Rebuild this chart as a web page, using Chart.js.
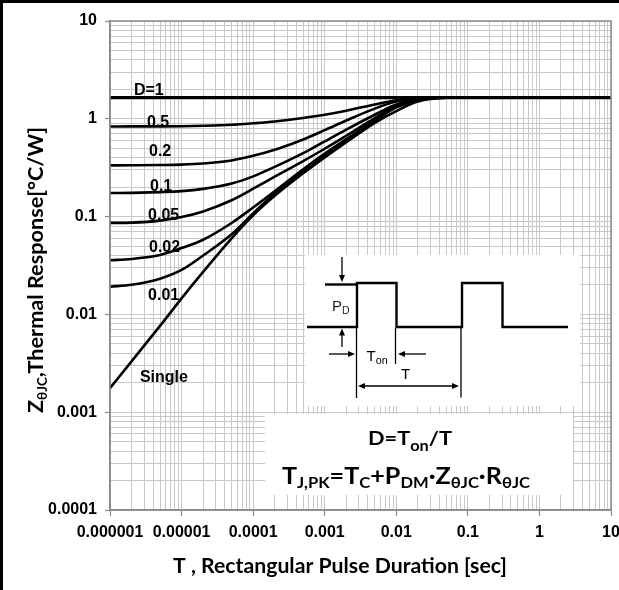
<!DOCTYPE html>
<html>
<head>
<meta charset="utf-8">
<script src="https://cdn.jsdelivr.net/npm/chart.js@4.4.1/dist/chart.umd.min.js"></script>
<style>
  html, body { margin: 0; padding: 0; background: #fff; overflow: hidden; }
  canvas { display: block; }
</style>
</head>
<body>
<canvas id="zth" width="619" height="590"></canvas>
<script>
// Pulse durations (s) at which the thermal impedance curves are sampled
const pulseDuration = [1e-6, 2e-6, 5e-6, 1e-5, 2e-5, 5e-5, 1e-4, 2e-4, 5e-4, 1e-3, 2e-3, 5e-3, 1e-2, 2e-2, 5e-2, 0.1, 1, 10];

// Duty-cycle curve names
const dutyLabels = ['D=1', '0.5', '0.2', '0.1', '0.05', '0.02', '0.01', 'Single'];

// Z(thJC) in °C/W for each duty cycle
const zD1     = [1.65, 1.65, 1.65, 1.65, 1.65, 1.65, 1.65, 1.65, 1.65, 1.65, 1.65, 1.65, 1.65, 1.65, 1.65, 1.65, 1.65, 1.65];
const zD05    = [0.835, 0.836, 0.837, 0.840, 0.848, 0.868, 0.900, 0.940, 1.020, 1.100, 1.210, 1.400, 1.550, 1.630, 1.650, 1.65, 1.65, 1.65];
const zD02    = [0.334, 0.335, 0.337, 0.340, 0.349, 0.375, 0.418, 0.482, 0.615, 0.765, 0.960, 1.270, 1.500, 1.620, 1.650, 1.65, 1.65, 1.65];
const zD01    = [0.174, 0.175, 0.178, 0.182, 0.192, 0.218, 0.258, 0.322, 0.445, 0.588, 0.775, 1.100, 1.400, 1.580, 1.650, 1.65, 1.65, 1.65];
const zD005   = [0.0862, 0.0868, 0.091, 0.099, 0.113, 0.147, 0.193, 0.256, 0.370, 0.494, 0.671, 1.016, 1.360, 1.570, 1.650, 1.65, 1.65, 1.65];
const zD002   = [0.0358, 0.0369, 0.0405, 0.0477, 0.058, 0.086, 0.124, 0.182, 0.305, 0.440, 0.620, 0.960, 1.330, 1.560, 1.645, 1.65, 1.65, 1.65];
const zD001   = [0.0192, 0.0201, 0.0232, 0.0285, 0.040, 0.066, 0.108, 0.172, 0.292, 0.425, 0.600, 0.950, 1.310, 1.550, 1.645, 1.65, 1.65, 1.65];
const zSingle = [0.00176, 0.00331, 0.00763, 0.0146, 0.0272, 0.060, 0.103, 0.163, 0.277, 0.403, 0.575, 0.910, 1.200, 1.500, 1.640, 1.65, 1.65, 1.65];

// Axis tick labels (decades)
const xMajorValues = [1e-6, 1e-5, 1e-4, 1e-3, 1e-2, 1e-1, 1, 10];
const xTickLabels  = ['0.000001', '0.00001', '0.0001', '0.001', '0.01', '0.1', '1', '10'];
const yMajorValues = [1e-4, 1e-3, 1e-2, 1e-1, 1, 10];
const yTickLabels  = ['0.0001', '0.001', '0.01', '0.1', '1', '10'];

// Where each curve's name sits (pulse duration, Z)
const curveLabelT = [2.16e-6, 3.29e-6, 3.51e-6, 3.62e-6, 3.40e-6, 3.51e-6, 3.40e-6, 2.62e-6];
const curveLabelZ = [1.93, 0.921, 0.461, 0.205, 0.1035, 0.0477, 0.01545, 0.00225];

const seriesValues = [zD1, zD05, zD02, zD01, zD005, zD002, zD001, zSingle];

const ARIAL = "'Liberation Sans', Arial, sans-serif";
const CAL = "Lato, 'Open Sans', sans-serif";

function isDecade(v) {
  const l = Math.log10(v);
  return Math.abs(l - Math.round(l)) < 1e-9;
}
function logTicks(minExp, maxExp) {
  const out = [];
  for (let e = minExp; e < maxExp; e++) {
    for (let m = 1; m <= 9; m++) out.push({ value: Number((m * Math.pow(10, e)).toPrecision(6)) });
  }
  out.push({ value: Math.pow(10, maxExp) });
  return out;
}
function labelFor(value, majors, labels) {
  const i = majors.findIndex(v => Math.abs(Math.log10(v) - Math.log10(value)) < 1e-9);
  return i >= 0 ? labels[i] : '';
}

// Draws text made of normal and subscript pieces
function drawRich(ctx, parts, o) {
  const weight = o.weight || 'bold';
  const subScale = o.subScale || 0.62;
  const subShift = o.subShift != null ? o.subShift : 0.2;
  const fontOf = p => `${weight} ${p.sub ? o.size * subScale : o.size}px ${o.family}`;
  let natural = 0;
  for (const p of parts) { ctx.font = fontOf(p); natural += ctx.measureText(p.text).width; }
  const sx = o.width ? o.width / natural : 1;
  ctx.save();
  ctx.translate(o.x, o.y);
  if (o.rotate) ctx.rotate(o.rotate);
  ctx.scale(sx, 1);
  ctx.fillStyle = o.color || '#000';
  ctx.textAlign = 'left';
  ctx.textBaseline = 'alphabetic';
  let cx = o.align === 'left' ? 0 : -natural / 2;
  for (const p of parts) {
    ctx.font = fontOf(p);
    ctx.fillText(p.text, cx, p.sub ? o.size * subShift : 0);
    cx += ctx.measureText(p.text).width;
  }
  ctx.restore();
}

function arrow(ctx, x1, y1, x2, y2, startHead, endHead) {
  const L = 7, W = 3;
  const a = Math.atan2(y2 - y1, x2 - x1);
  const head = (x, y, ang) => {
    ctx.beginPath();
    ctx.moveTo(x, y);
    ctx.lineTo(x - L * Math.cos(ang) + W * Math.sin(ang), y - L * Math.sin(ang) - W * Math.cos(ang));
    ctx.lineTo(x - L * Math.cos(ang) - W * Math.sin(ang), y - L * Math.sin(ang) + W * Math.cos(ang));
    ctx.closePath();
    ctx.fill();
  };
  ctx.beginPath();
  ctx.moveTo(x1 + (startHead ? L * Math.cos(a) * 0.8 : 0), y1 + (startHead ? L * Math.sin(a) * 0.8 : 0));
  ctx.lineTo(x2 - (endHead ? L * Math.cos(a) * 0.8 : 0), y2 - (endHead ? L * Math.sin(a) * 0.8 : 0));
  ctx.stroke();
  if (endHead) head(x2, y2, a);
  if (startHead) head(x1, y1, a + Math.PI);
}

const overlayPlugin = {
  id: 'zthOverlay',
  afterDatasetsDraw(chart) {
    const ctx = chart.ctx;
    const xs = chart.scales.x, ys = chart.scales.y;

    // curve names
    ctx.save();
    ctx.fillStyle = '#000';
    ctx.font = `bold 16px ${ARIAL}`;
    ctx.textAlign = 'left';
    ctx.textBaseline = 'middle';
    dutyLabels.forEach((name, i) => {
      ctx.fillText(name, xs.getPixelForValue(curveLabelT[i]), ys.getPixelForValue(curveLabelZ[i]));
    });
    ctx.restore();

    // white panels for the waveform sketch and the formulas
    ctx.save();
    ctx.fillStyle = '#fff';
    ctx.fillRect(305, 255, 275, 151);
    ctx.fillRect(265, 414, 308, 81);

    // pulse train sketch
    ctx.strokeStyle = '#000';
    ctx.fillStyle = '#000';
    ctx.lineJoin = 'miter';
    ctx.lineWidth = 2.4;
    ctx.beginPath();
    ctx.moveTo(307, 327); ctx.lineTo(357, 327); ctx.lineTo(357, 283);
    ctx.lineTo(396.5, 283); ctx.lineTo(396.5, 327); ctx.lineTo(462, 327);
    ctx.lineTo(462, 283); ctx.lineTo(502.5, 283); ctx.lineTo(502.5, 327); ctx.lineTo(568, 327);
    ctx.stroke();
    ctx.beginPath();
    ctx.moveTo(325, 284.5); ctx.lineTo(356, 284.5);
    ctx.stroke();

    ctx.lineWidth = 1.3;
    ctx.beginPath();
    ctx.moveTo(356.5, 328); ctx.lineTo(356.5, 398);
    ctx.moveTo(395.5, 328); ctx.lineTo(395.5, 364);
    ctx.moveTo(461, 328); ctx.lineTo(461, 397.5);
    ctx.stroke();
    arrow(ctx, 342, 257, 342, 282, false, true);
    arrow(ctx, 342, 347, 342, 328.5, false, true);
    arrow(ctx, 329, 354, 355, 354, false, true);
    arrow(ctx, 426, 354, 398, 354, false, true);
    arrow(ctx, 358, 386, 459, 386, true, true);
    ctx.restore();

    drawRich(ctx, [{ text: 'P' }, { text: 'D', sub: true }],
      { x: 332, y: 311, size: 15, family: ARIAL, weight: 'normal', align: 'left', subScale: 0.7, subShift: 0.18, color: '#1c1c28' });
    drawRich(ctx, [{ text: 'T' }, { text: 'on', sub: true }],
      { x: 366.5, y: 361, size: 15, family: ARIAL, weight: 'normal', align: 'left', subScale: 0.72, subShift: 0.2 });
    drawRich(ctx, [{ text: 'T' }],
      { x: 405.5, y: 378.5, size: 15, family: ARIAL, weight: 'normal' });

    // formulas
    drawRich(ctx, [{ text: 'D=T' }, { text: 'on', sub: true }, { text: '/T' }],
      { x: 410, y: 445, size: 19, family: CAL, width: 84, subScale: 0.75, subShift: 0.3 });
    drawRich(ctx, [
      { text: 'T' }, { text: 'J,PK', sub: true }, { text: '=T' }, { text: 'C', sub: true },
      { text: '+P' }, { text: 'DM', sub: true }, { text: '·Z' }, { text: 'θJC', sub: true },
      { text: '·R' }, { text: 'θJC', sub: true }],
      { x: 406, y: 484, size: 22, family: CAL, width: 248, subScale: 0.66, subShift: 0.16 });
  },
  afterDraw(chart) {
    const ctx = chart.ctx;
    const a = chart.chartArea;
    ctx.save();
    // plot frame
    ctx.strokeStyle = '#8a8a8a';
    ctx.lineWidth = 1.5;
    ctx.strokeRect(a.left, a.top, a.right - a.left, a.bottom - a.top);
    // figure frame (left and top)
    ctx.fillStyle = '#000';
    ctx.fillRect(0, 0, chart.width, 3);
    ctx.fillRect(0, 0, 3, chart.height);
    ctx.restore();

    // axis titles
    drawRich(ctx, [{ text: 'T , Rectangular Pulse Duration [sec]' }],
      { x: 340, y: 573, size: 21, family: CAL, width: 334 });
    drawRich(ctx, [{ text: 'Z' }, { text: 'θJC', sub: true }, { text: ',Thermal Response[°C/W]' }],
      { x: 43, y: 270, size: 20, family: CAL, width: 286, rotate: -Math.PI / 2, subScale: 0.62, subShift: 0.2 });
  }
};

const datasets = seriesValues.map((vals, i) => ({
  label: dutyLabels[i],
  data: pulseDuration.map((t, k) => ({ x: t, y: vals[k] })),
  borderColor: '#000',
  borderWidth: i === 0 ? 3.2 : 2.6,
  pointRadius: 0,
  fill: false,
  cubicInterpolationMode: 'monotone'
}));

const gridColor = '#c8c8c8';
const tickMarkColor = ctx => (ctx.tick && isDecade(ctx.tick.value) ? '#8a8a8a' : 'rgba(0,0,0,0)');

new Chart(document.getElementById('zth'), {
  type: 'line',
  data: { datasets },
  plugins: [overlayPlugin],
  options: {
    responsive: false,
    animation: false,
    devicePixelRatio: 1,
    layout: { padding: { top: 21, right: 8, left: 0, bottom: 0 } },
    plugins: { legend: { display: false }, tooltip: { enabled: false } },
    scales: {
      x: {
        type: 'logarithmic',
        min: 1e-6,
        max: 10,
        afterBuildTicks: s => { s.ticks = logTicks(-6, 1); },
        afterFit: s => { s.height = 80; s.paddingLeft = 0; s.paddingRight = 0; },
        grid: { color: gridColor, lineWidth: 1, tickLength: 6, tickColor: tickMarkColor, tickWidth: 1.2 },
        border: { display: true, color: '#8a8a8a', width: 1.5 },
        ticks: {
          autoSkip: false, maxRotation: 0, minRotation: 0, padding: 7,
          color: '#000', font: { family: ARIAL, size: 16, weight: 'bold' },
          callback: v => labelFor(v, xMajorValues, xTickLabels)
        }
      },
      y: {
        type: 'logarithmic',
        min: 1e-4,
        max: 10,
        afterBuildTicks: s => { s.ticks = logTicks(-4, 1); },
        afterFit: s => { s.width = 110; s.paddingTop = 0; s.paddingBottom = 0; },
        grid: { color: gridColor, lineWidth: 1, tickLength: 5, tickColor: tickMarkColor, tickWidth: 1.2 },
        border: { display: true, color: '#8a8a8a', width: 1.5 },
        ticks: {
          autoSkip: false, padding: 8,
          color: '#000', font: { family: ARIAL, size: 16, weight: 'bold' },
          callback: v => labelFor(v, yMajorValues, yTickLabels)
        }
      }
    }
  }
});
</script>
</body>
</html>
